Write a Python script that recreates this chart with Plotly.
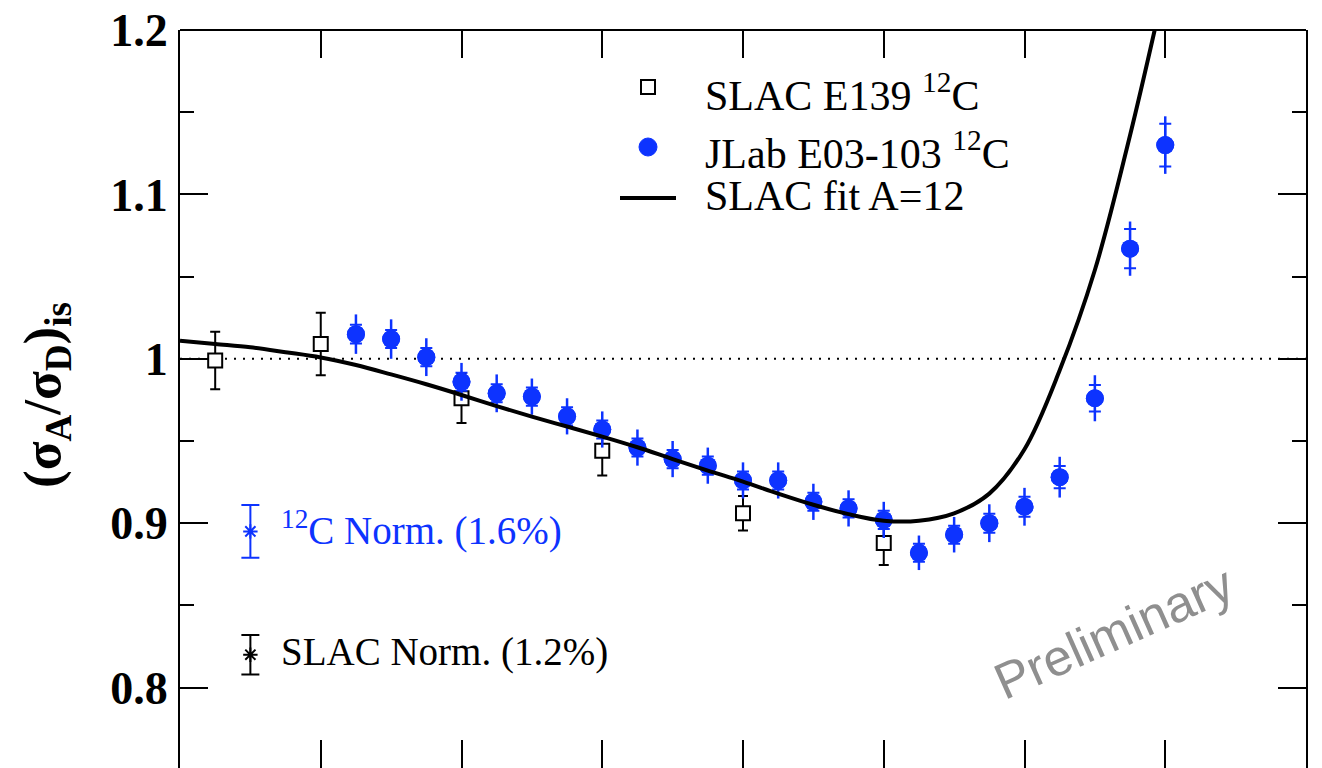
import plotly.graph_objects as go

# ---- data -------------------------------------------------------------
# SLAC E139 carbon ratios
slac_x = [0.225, 0.300, 0.400, 0.500, 0.600, 0.700]
slac_y = [0.999, 1.009, 0.976, 0.944, 0.906, 0.888]
slac_err = [0.0175, 0.019, 0.015, 0.015, 0.0105, 0.0135]

# JLab E03-103 carbon ratios (total and statistical errors)
jlab_x = [0.325, 0.350, 0.375, 0.400, 0.425, 0.450, 0.475, 0.500,
          0.525, 0.550, 0.575, 0.600, 0.625, 0.650, 0.675, 0.700,
          0.725, 0.750, 0.775, 0.800, 0.825, 0.850, 0.875, 0.900]
jlab_y = [1.015, 1.012, 1.001, 0.986, 0.979, 0.977, 0.965, 0.957,
          0.946, 0.939, 0.935, 0.926, 0.926, 0.913, 0.909, 0.902,
          0.882, 0.893, 0.900, 0.910, 0.928, 0.976, 1.067, 1.130]
jlab_tot = [0.012, 0.012, 0.0115, 0.0115, 0.0115, 0.011, 0.011, 0.011,
            0.011, 0.011, 0.011, 0.011, 0.011, 0.011, 0.011, 0.011,
            0.0105, 0.0108, 0.0115, 0.0115, 0.0124, 0.014, 0.0165, 0.0175]
jlab_stat = [0.0057, 0.0055, 0.0055, 0.0055, 0.0055, 0.0055, 0.0055, 0.0055,
             0.0055, 0.0055, 0.0055, 0.0055, 0.0055, 0.0055, 0.0055, 0.0055,
             0.0055, 0.0055, 0.0058, 0.0061, 0.0068, 0.0081, 0.0119, 0.013]

# SLAC fit for A=12
fit_x = [0.200, 0.225, 0.250, 0.275, 0.300, 0.325, 0.350, 0.375, 0.400,
         0.425, 0.450, 0.475, 0.500, 0.525, 0.550, 0.575, 0.600, 0.625,
         0.650, 0.675, 0.700, 0.725, 0.750, 0.775, 0.800, 0.825, 0.850,
         0.875, 0.8925]
fit_y = [1.011, 1.009, 1.007, 1.004, 1.0008, 0.9962, 0.9905, 0.9845, 0.978,
         0.9712, 0.9648, 0.9588, 0.9527, 0.9462, 0.9390, 0.9320, 0.9253, 0.9180,
         0.9112, 0.9055, 0.9015, 0.9015, 0.906, 0.918, 0.945, 0.993, 1.054,
         1.136, 1.2]

# normalisation uncertainties
norm_x = [0.25, 0.25]
norm_y = [0.895, 0.820]
norm_err = [0.016, 0.012]
norm_labels = ["<sup>12</sup>C Norm. (1.6%)", "SLAC Norm. (1.2%)"]

legend_labels = ["SLAC E139 <sup>12</sup>C", "JLab E03-103 <sup>12</sup>C", "SLAC fit A=12"]
ytick_vals = [0.8, 0.9, 1.0, 1.1, 1.2]
ytick_text = ["0.8", "0.9", "1", "1.1", "1.2"]

BLUE = "#0d33ff"
SERIF = "Liberation Serif, Times New Roman, serif"

fig = go.Figure()

# SLAC E139 points
fig.add_trace(go.Scatter(
    x=slac_x, y=slac_y, mode="markers",
    marker=dict(symbol="square", size=14, color="white",
                line=dict(color="black", width=2)),
    error_y=dict(type="data", array=slac_err, color="black", thickness=2, width=5),
    showlegend=False))

# JLab total errors (no caps)
fig.add_trace(go.Scatter(
    x=jlab_x, y=jlab_y, mode="markers",
    marker=dict(symbol="circle", size=18, color=BLUE),
    error_y=dict(type="data", array=jlab_tot, color=BLUE, thickness=2.5, width=0),
    showlegend=False))
# JLab statistical errors (with caps)
fig.add_trace(go.Scatter(
    x=jlab_x, y=jlab_y, mode="markers",
    marker=dict(symbol="circle", size=18, color=BLUE),
    error_y=dict(type="data", array=jlab_stat, color=BLUE, thickness=2, width=6),
    showlegend=False))

# SLAC fit curve
fig.add_trace(go.Scatter(
    x=fit_x, y=fit_y, mode="lines",
    line=dict(color="black", width=4, shape="spline", smoothing=1.0),
    showlegend=False))

# normalisation bars
for xv, yv, ev, col in zip(norm_x, norm_y, norm_err, [BLUE, "black"]):
    fig.add_trace(go.Scatter(
        x=[xv], y=[yv], mode="markers",
        marker=dict(symbol="asterisk-open", size=12, color=col,
                    line=dict(color=col, width=2)),
        error_y=dict(type="data", array=[ev], color=col, thickness=2, width=9),
        showlegend=False))

for lab, yv, col in zip(norm_labels, norm_y, [BLUE, "black"]):
    fig.add_annotation(x=0.27, y=yv, xref="x", yref="y", text=lab,
                       showarrow=False, xanchor="left", yanchor="middle",
                       yshift=3,
                       font=dict(family=SERIF, size=39, color=col))

# unity reference line
fig.add_shape(type="line", xref="paper", yref="y", x0=0, x1=1, y0=1, y1=1,
              line=dict(color="black", width=2, dash="2px,7px"), layer="below")
# top frame line
fig.add_shape(type="line", xref="paper", yref="paper", x0=0, x1=1, y0=1, y1=1,
              line=dict(color="black", width=2))

# legend keys
fig.add_shape(type="rect", xref="paper", yref="paper",
              xsizemode="pixel", ysizemode="pixel",
              xanchor=(648 - 180) / 1126, yanchor=(768 - 87) / 738,
              x0=-7, x1=7, y0=-7, y1=7,
              line=dict(color="black", width=2), fillcolor="white")
fig.add_shape(type="circle", xref="paper", yref="paper",
              xsizemode="pixel", ysizemode="pixel",
              xanchor=(648 - 180) / 1126, yanchor=(768 - 147) / 738,
              x0=-9, x1=9, y0=-9, y1=9,
              line=dict(color=BLUE, width=1), fillcolor=BLUE)
fig.add_shape(type="line", xref="paper", yref="paper",
              x0=(620 - 180) / 1126, x1=(676 - 180) / 1126,
              y0=(768 - 198) / 738, y1=(768 - 198) / 738,
              line=dict(color="black", width=4))
for lab, py in zip(legend_labels, [93, 150, 196]):
    fig.add_annotation(x=(703 - 180) / 1126, y=(768 - py) / 738,
                       xref="paper", yref="paper", text=lab, showarrow=False,
                       xanchor="left", yanchor="middle",
                       font=dict(family=SERIF, size=42, color="black"))

# y-axis title
fig.add_annotation(x=(46 - 180) / 1126, y=(768 - 395) / 738,
                   xref="paper", yref="paper", textangle=-90,
                   text="<b>(σ<sub>A</sub>/σ<sub>D</sub>)<sub>is</sub></b>",
                   showarrow=False, xanchor="center", yanchor="middle",
                   font=dict(family=SERIF, size=53, color="black"))

# watermark
fig.add_annotation(x=(1114 - 180) / 1126, y=(768 - 632) / 738,
                   xref="paper", yref="paper", text="Preliminary",
                   textangle=-24, showarrow=False,
                   xanchor="center", yanchor="middle",
                   font=dict(family="Liberation Sans, Arial, sans-serif",
                             size=51, color="#8f8f8f"))

fig.update_xaxes(range=[0.2, 1.0], dtick=0.1, tick0=0.2, ticks="inside",
                 ticklen=28, tickwidth=2, tickcolor="black",
                 showline=False, mirror="ticks", showgrid=False,
                 zeroline=False, showticklabels=False)
fig.update_yaxes(range=[1.2 - 738 / 1644, 1.2], tickvals=ytick_vals,
                 ticktext=ytick_text, ticks="inside", ticklen=28, tickwidth=2,
                 tickcolor="black", showline=True, linewidth=2,
                 linecolor="black", mirror="ticks", showgrid=False,
                 zeroline=False, ticklabelstandoff=1,
                 tickfont=dict(family=SERIF, size=46, color="black", weight="bold"),
                 minor=dict(dtick=0.05, tick0=0.75, ticks="inside", ticklen=14,
                            tickwidth=2, tickcolor="black", showgrid=False))

fig.update_layout(width=1322, height=768,
                  margin=dict(l=180, r=16, t=30, b=0, pad=0),
                  plot_bgcolor="white", paper_bgcolor="white",
                  showlegend=False)

fig.write_html("out.html", include_plotlyjs=True, full_html=True,
               config={"displayModeBar": False})
